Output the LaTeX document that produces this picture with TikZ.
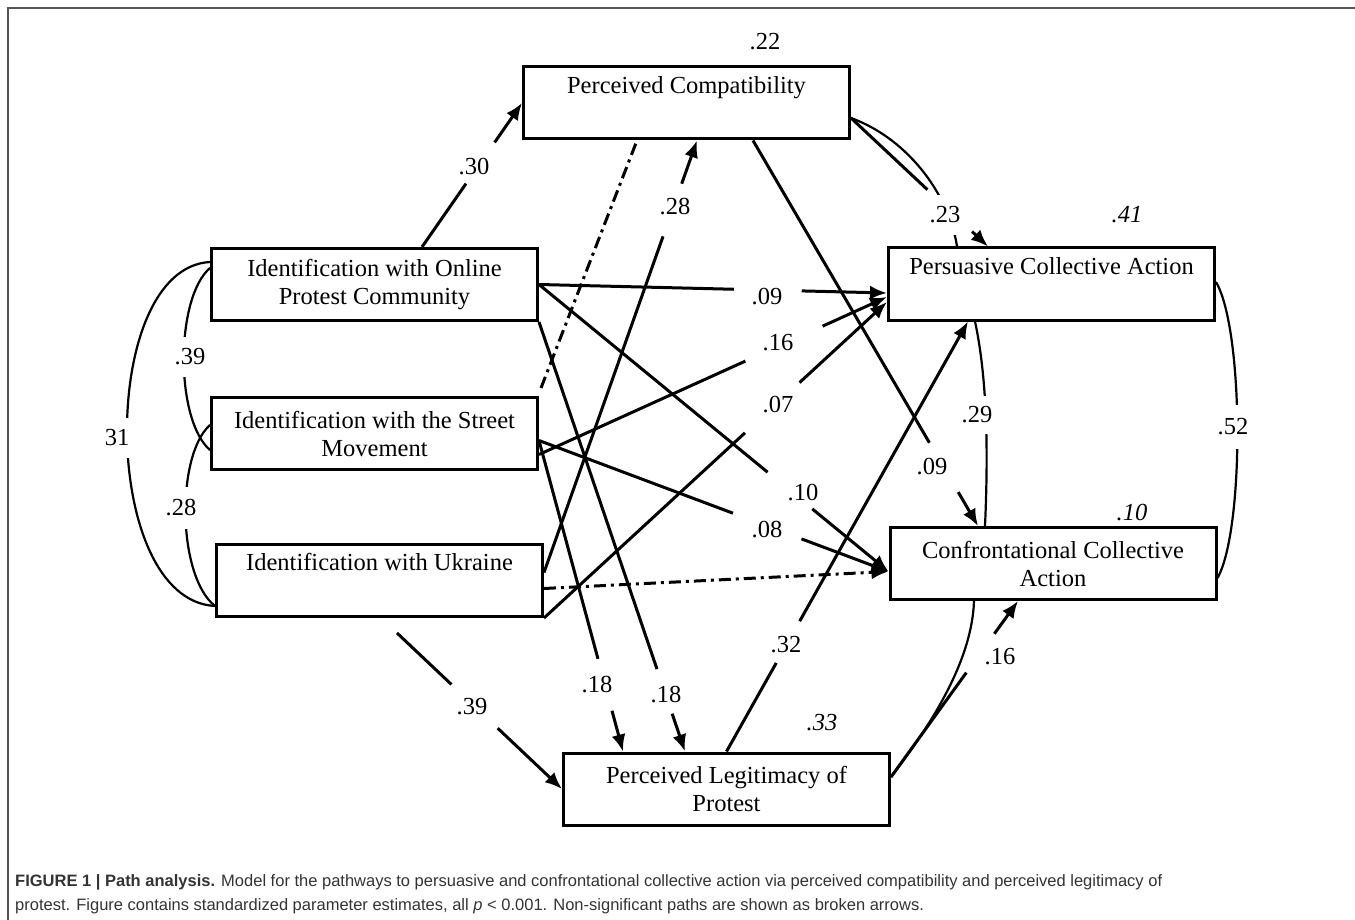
\documentclass[tikz,border=0pt]{standalone}
\usepackage{fontspec}
\setmainfont{Liberation Serif}
\newfontfamily\capfont{Liberation Sans}
\usetikzlibrary{arrows.meta,calc}
\definecolor{framegray}{HTML}{555555}
\definecolor{capgray}{HTML}{333333}
\newcommand{\pathfont}{\fontsize{24.5}{28}\selectfont}
\tikzset{
	varbox/.style={draw, line width=3pt, minimum width=326pt, minimum height=72pt, inner sep=0pt, align=center, font=\pathfont},
	lbl/.style={inner sep=0pt, font=\pathfont},
	rsq/.style={inner sep=0pt, font=\pathfont\itshape},
	covlbl/.style={lbl, fill=white, inner xsep=3pt, inner ysep=#1},
	pathline/.style={line width=3pt},
	patharr/.style={line width=3pt, -{Latex[length=17pt,width=14pt]}},
	covline/.style={line width=2.2pt},
	nsline/.style={line width=3pt, dash pattern=on 12pt off 5pt on 3pt off 5pt},
	caption/.style={anchor=base west, inner sep=0pt, text=capgray, font=\capfont\fontsize{16.5}{22}\selectfont}
}
% arrow with a gap for its estimate: [opts]{from}{to}{gap start}{gap end}
\newcommand{\gappath}[5][]{%
	\draw[pathline,#1] (#2) -- ($(#2)!#4!(#3)$);
	\draw[patharr,#1] ($(#2)!#5!(#3)$) -- (#3);}

\begin{document}
\begin{tikzpicture}[x=1pt,y=-1pt]
\useasboundingbox (0,0) rectangle (1355,920);
\draw[framegray, line width=2pt] (8,920) -- (8,8) -- (1355,8);

% variables
\node[varbox] (pc) at (686.5,103) {Perceived Compatibility\\\strut};
\node[varbox] (io) at (374.5,284.5) {Identification with Online\\Protest Community};
\node[varbox] (is) at (374.5,433.5) {Identification with the Street\\Movement};
\node[varbox] (iu) at (379.5,580.5) {Identification with Ukraine\\\strut};
\node[varbox] (pca) at (1051.5,284) {Persuasive Collective Action\\\strut};
\node[varbox] (cca) at (1053,563.5) {Confrontational Collective\\Action};
\node[varbox] (pl) at (726.5,789) {Perceived Legitimacy of\\Protest};

% attachment points
\coordinate (ioN) at ($(io.north)+(47.5,0)$);
\coordinate (pcaW1) at ($(pca.west)+(0,9)$);
\coordinate (pcaW2) at ($(pca.west)+(0,13)$);
\coordinate (pcaW3) at ($(pca.west)+(0,18)$);
\coordinate (ccaW) at ($(cca.west)+(0,8)$);
\coordinate (isE1) at ($(is.east)+(0,7)$);
\coordinate (isE2) at ($(is.east)+(0,21)$);
\coordinate (iuE1) at ($(iu.east)+(0,-8)$);
\coordinate (iuE2) at ($(iu.east)+(0,8)$);
\coordinate (iuS) at ($(iu.south)+(17.5,15)$);
\coordinate (plN1) at ($(pl.north)+(-103.5,0)$);
\coordinate (plN2) at ($(pl.north)+(-41.5,0)$);
\coordinate (pcaS) at ($(pca.south)+(-83.5,0)$);
\coordinate (pcS1) at ($(pc.south)+(10.5,0)$);
\coordinate (pcS2) at ($(pc.south)+(-49.5,0)$);
\coordinate (pcS3) at ($(pc.south)+(66.5,0)$);
\coordinate (ccaN) at ($(cca.north)+(-75,0)$);
\coordinate (pcE) at ($(pc.east)+(0,15)$);
\coordinate (pcaN1) at ($(pca.north)+(-63.5,0)$);
\coordinate (pcaN2) at ($(pca.north)+(-94.5,0)$);
\coordinate (plE) at ($(pl.east)+(0,-12)$);
\coordinate (ccaS1) at ($(cca.south)+(-35,0)$);
\coordinate (ccaS2) at ($(cca.south)+(-79,0)$);

% correlations
\draw[covline] ($(io.north west)+(0,15)$) .. controls +(-112,6) and +(-116,-6) .. ($(iu.south west)+(0,-12)$);
\draw[covline] ($(io.north west)+(0,21)$) .. controls +(-35,30) and +(-35,-30) .. ($(is.west)+(0,16.5)$);
\draw[covline] ($(is.west)+(0,-8.5)$) .. controls +(-34,30) and +(-38,-30) .. ($(iu.south west)+(0,-12)$);
\draw[covline] ($(pca.south)+(-76.5,0)$) .. controls +(13,60) and +(3,-67) .. ($(cca.north)+(-68,0)$);
\draw[covline] ($(pca.east)+(0,-2)$) .. controls +(28,48) and +(27,-48) .. ($(cca.east)+(0,14.5)$);
\draw[covline] (pcE) .. controls +(60,22) and +(-7,-48) .. (pcaN2);
\draw[covline] (plE) .. controls +(40,-52) and +(-2,60) .. (ccaS2);

% paths
\gappath{ioN}{pc.west}{.44}{.726}
\gappath{io.east}{pcaW1}{.56}{.755}
\gappath{io.east}{ccaW}{.654}{.782}
\gappath{io.south east}{plN2}{.808}{.912}
\gappath{isE1}{plN1}{.702}{.869}
\gappath{isE2}{pcaW2}{.593}{.815}
\gappath{isE1}{ccaW}{.555}{.751}
\gappath{iu.south east}{pcaW3}{.586}{.745}
\gappath{iuE1}{pcS1}{.778}{.90}
\gappath{pcS3}{ccaN}{.784}{.912}
\gappath{pl.north}{pcaS}{.206}{.303}
\gappath{iuS}{pl.west}{.33}{.61}
\gappath{pcE}{pcaN1}{.558}{.884}
\gappath{plE}{ccaS1}{.593}{.814}
\draw[nsline, -{Latex[length=17pt,width=14pt]}] (iuE2) -- (ccaW);
\draw[nsline] ($(is.north east)+(2,-8)$) -- (pcS2);

% estimates
\node[lbl] (e30) at (474,167) {.30};
\node[lbl] (e09a) at (767,297) {.09};
\node[lbl] (e10) at (803,493) {.10};
\node[lbl] (e18a) at (597,685) {.18};
\node[lbl] (e18b) at (666,695) {.18};
\node[lbl] (e16a) at (778,343) {.16};
\node[lbl] (e08) at (767,530) {.08};
\node[lbl] (e07) at (778,405) {.07};
\node[lbl] (e28a) at (675,207) {.28};
\node[lbl] (e09b) at (932,467) {.09};
\node[lbl] (e32) at (786,645) {.32};
\node[lbl] (e39a) at (472,707) {.39};
\node[covlbl=12pt] (e23) at (945,215) {.23};
\node[lbl] (e16b) at (1000,657) {.16};
\node[covlbl=12pt] (c31) at (117,438) {31};
\node[covlbl=12pt] (c39) at (190,357) {.39};
\node[covlbl=13pt] (c28) at (181,508) {.28};
\node[covlbl=11pt] (c29) at (977,415) {.29};
\node[covlbl=14pt] (c52) at (1233,427) {.52};

% explained variance
\node[lbl] (r22) at (765,42) {.22};
\node[rsq] (r41) at (1127,215) {.41};
\node[rsq] (r10) at (1132,513) {.10};
\node[rsq] (r33) at (822,723) {.33};

% caption
\node[caption] (cap1) at (15,886) {\textbf{FIGURE 1 | Path analysis.} Model for the pathways to persuasive and confrontational collective action via perceived compatibility and perceived legitimacy of};
\node[caption] (cap2) at (15,910) {protest. Figure contains standardized parameter estimates, all \textit{p} < 0.001. Non-significant paths are shown as broken arrows.};
\end{tikzpicture}
\end{document}
